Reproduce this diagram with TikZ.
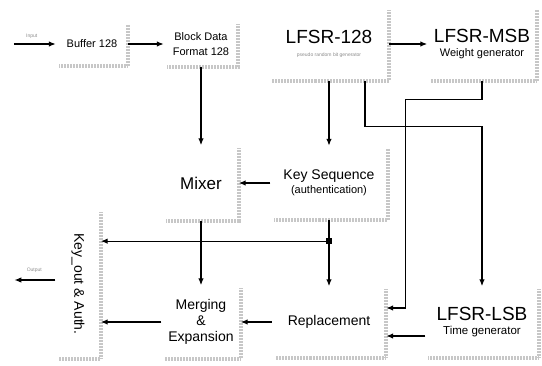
\documentclass[tikz,border=0pt]{standalone}
\usepackage{fontspec}
\setmainfont{Liberation Sans}
\usetikzlibrary{arrows.meta, positioning, calc}

\begin{document}
\begin{tikzpicture}[
    x=1pt, y=1pt, on grid,
    every node/.style={font=\fontsize{11}{15}\selectfont},
    unit/.style={rectangle, align=center, inner sep=0pt},
    bigtxt/.style={font=\fontsize{19}{22}\selectfont},
    midtxt/.style={font=\fontsize{14}{17}\selectfont},
    stipple/.style={draw=black!22, line width=4pt, dash pattern=on 0.6pt off 0.9pt},
    arr/.style={-{Latex[length=7pt, width=5.5pt]}, line width=1.3pt},
    faint/.style={font=\fontsize{5}{6}\selectfont, text=black!45}
]
    \useasboundingbox (-201,44) rectangle (341,-321);

    % top row
    \node[unit, minimum width=74pt, minimum height=45pt] (blk) {Block Data\\Format 128};
    \node[unit, minimum width=72pt, minimum height=44pt, left=109pt of blk] (buf) {Buffer 128};
    \node[unit, minimum width=120pt, minimum height=73pt, right=128pt of blk] (l128)
        {{\fontsize{19}{22}\selectfont LFSR-128}\\[-2pt]{\fontsize{5}{6}\selectfont\color{black!45}pseudo random bit generator}};
    \node[unit, minimum width=109pt, minimum height=74pt, right=153pt of l128] (msb)
        {{\fontsize{19}{22}\selectfont LFSR-MSB}\\[-1pt]Weight generator};

    % middle row
    \node[unit, font=\fontsize{17}{19}\selectfont, minimum width=75pt, minimum height=75pt, below=139pt of blk] (mix) {Mixer};
    \node[unit, midtxt, minimum width=117pt, minimum height=74pt, below=139pt of l128] (key)
        {Key Sequence\\[-3pt]{\fontsize{11}{13}\selectfont (authentication)}};

    % bottom row
    \node[unit, midtxt, minimum width=79pt, minimum height=73pt, below=139pt of mix] (mrg)
        {Merging\\[-1pt]\&\\[-1pt]Expansion};
    \node[unit, midtxt, minimum width=114pt, minimum height=71pt, below=139pt of key] (rep) {Replacement};
    \node[unit, minimum width=113pt, minimum height=71pt, below=278pt of msb] (lsb)
        {{\fontsize{19}{22}\selectfont LFSR-LSB}\\[-1pt]{\fontsize{11.5}{13}\selectfont Time generator}};
    \node[unit, midtxt, minimum width=45pt, minimum height=149pt, above left=38pt and 123pt of mrg] (out)
        {\rotatebox{-90}{Key\_out \& Auth.}};

    % dotted shadows
    \foreach \n in {buf,blk,l128,msb,mix,key,out,mrg,rep,lsb}
        \draw[stipple] ([yshift=-3pt]\n.north east) -- (\n.south east) -- ([xshift=3pt]\n.south west);

    % free ends and junction
    \coordinate (src) at ($(buf.west)+(-42,0)$);
    \coordinate (dst) at ($(out.west)+(-41,4)$);
    \node[faint] (inlbl) at ($(src)+(18,8)$) {Input};
    \node[faint] (outlbl) at ($(dst)+(20,10)$) {Output};
    \node[fill, minimum size=5.5pt, inner sep=0pt, below=18pt of key.south] (jn) {};

    \draw[arr] (src) -- (buf);
    \draw[arr] (buf) -- (blk);
    \draw[arr] (blk) -- (mix);
    \draw[arr] (l128) -- (msb);
    \draw[arr] (l128) -- (key);
    \draw[arr] ([xshift=36pt]l128.south) -- ++(0,-46) -| (lsb);
    \draw[arr] (msb.south) -- ++(0,-18) -| ($(rep.east)+(19,14)$) -- ([yshift=14pt]rep.east);
    \draw[arr] (key) -- (mix);
    \draw[arr] (key) -- (rep);
    \draw[arr] (jn) -- (jn -| out.east);
    \draw[arr] (mix) -- (mrg);
    \draw[arr] (rep) -- (mrg);
    \draw[arr] ([yshift=-14pt]lsb.west) -- ([yshift=-14pt]rep.east);
    \draw[arr] (mrg) -- (mrg -| out.east);
    \draw[arr] ([yshift=4pt]out.west) -- (dst);
\end{tikzpicture}
\end{document}
